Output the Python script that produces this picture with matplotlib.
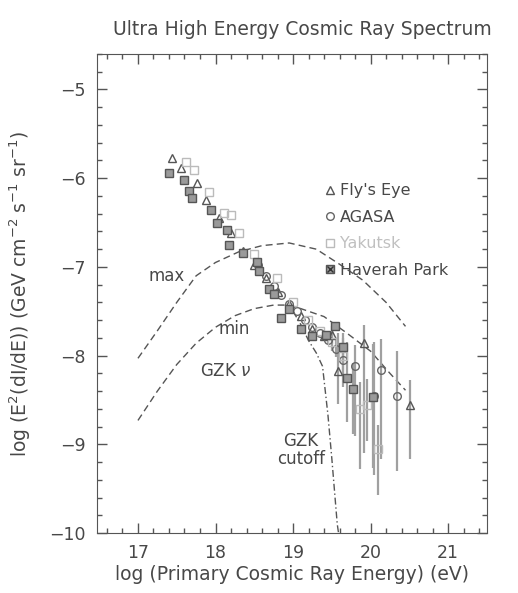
import numpy as np
import matplotlib
matplotlib.use("Agg")
import matplotlib.pyplot as plt

# Fly's Eye (open triangles)
fe_x = [17.44, 17.56, 17.76, 17.88, 18.05, 18.2, 18.35, 18.5, 18.65, 18.8, 18.95, 19.1, 19.25, 19.4, 19.5, 19.58, 19.92, 20.51]
fe_y = [-5.77, -5.89, -6.05, -6.25, -6.45, -6.62, -6.82, -6.98, -7.12, -7.28, -7.42, -7.55, -7.7, -7.78, -7.77, -8.17, -7.86, -8.56]
fe_lo = [0, 0, 0, 0, 0, 0, 0, 0, 0, 0, 0, 0, 0, 0.05, 0.1, 0.38, 1.24, 0.6]
fe_hi = [0, 0, 0, 0, 0, 0, 0, 0, 0, 0, 0, 0, 0, 0.05, 0.1, 0.42, 0.2, 0.28]

# AGASA (open circles)
ag_x = [18.55, 18.65, 18.75, 18.85, 18.95, 19.05, 19.15, 19.25, 19.35, 19.45, 19.55, 19.65, 19.8, 20.05, 20.14, 20.34]
ag_y = [-6.98, -7.1, -7.22, -7.32, -7.42, -7.5, -7.6, -7.68, -7.75, -7.82, -7.92, -8.05, -8.12, -8.45, -8.16, -8.45]
ag_lo = [0, 0, 0, 0, 0, 0, 0, 0, 0, 0.05, 0.1, 0.3, 0.78, 0.9, 1.0, 0.85]
ag_hi = [0, 0, 0, 0, 0, 0, 0, 0, 0, 0.05, 0.1, 0.25, 0.24, 0.6, 0.35, 0.5]

# Yakutsk (light open squares)
ya_x = [17.62, 17.72, 17.92, 18.11, 18.2, 18.3, 18.5, 18.79, 19.0, 19.19, 19.35, 19.5, 19.65, 19.86, 19.95, 20.09]
ya_y = [-5.82, -5.91, -6.16, -6.39, -6.41, -6.62, -6.85, -7.12, -7.4, -7.6, -7.72, -7.85, -8.0, -8.6, -8.56, -9.05]
ya_lo = [0, 0, 0, 0, 0, 0, 0, 0, 0, 0, 0, 0.1, 0.2, 0.68, 0.4, 0.52]
ya_hi = [0, 0, 0, 0, 0, 0, 0, 0, 0, 0, 0, 0.1, 0.15, 0.3, 0.3, 0.27]

# Haverah Park (boxed cross)
hp_x = [17.4, 17.6, 17.66, 17.7, 17.94, 18.02, 18.15, 18.18, 18.35, 18.53, 18.56, 18.69, 18.76, 18.85, 18.95, 19.1, 19.25, 19.43, 19.54, 19.64, 19.69, 19.77, 20.03]
hp_y = [-5.94, -6.02, -6.14, -6.22, -6.36, -6.5, -6.58, -6.75, -6.84, -6.94, -7.05, -7.25, -7.3, -7.58, -7.47, -7.7, -7.78, -7.77, -7.67, -7.9, -8.25, -8.38, -8.47]
hp_lo = [0, 0, 0, 0, 0, 0, 0, 0, 0, 0, 0, 0, 0, 0, 0, 0, 0, 0, 0.05, 0.2, 0.5, 0.5, 0.8]
hp_hi = [0, 0, 0, 0, 0, 0, 0, 0, 0, 0, 0, 0, 0, 0, 0, 0, 0, 0, 0.05, 0.15, 0.4, 0.3, 0.6]

# model curves
max_x = [17.0, 17.25, 17.5, 17.75, 18.0, 18.3, 18.6, 18.95, 19.3, 19.6, 19.9, 20.2, 20.45]
max_y = [-8.03, -7.72, -7.4, -7.1, -6.95, -6.83, -6.76, -6.73, -6.8, -6.97, -7.15, -7.4, -7.67]
min_x = [17.0, 17.25, 17.5, 17.75, 18.0, 18.25, 18.5, 18.75, 18.9, 19.1, 19.4, 19.7, 20.0, 20.25, 20.45]
min_y = [-8.73, -8.4, -8.1, -7.86, -7.68, -7.55, -7.47, -7.43, -7.43, -7.47, -7.56, -7.75, -7.95, -8.2, -8.39]
cut_x = [19.0, 19.1, 19.2, 19.3, 19.38, 19.45, 19.5, 19.57, 19.62]
cut_y = [-7.5, -7.65, -7.83, -7.97, -8.12, -8.67, -9.16, -9.9, -10.2]

txt = '#484848'
plt.rcParams['font.family'] = ['DejaVu Sans']

fig = plt.figure(figsize=(5.18, 5.93), dpi=100)
ax = fig.add_axes([0.187, 0.101, 0.753, 0.808])

#curves
ax.plot(max_x, max_y, color='#555555', lw=1.0, dashes=(5, 3))
ax.plot(min_x, min_y, color='#555555', lw=1.0, dashes=(5, 3))
ax.plot(cut_x, cut_y, color='#555555', lw=1.0, dashes=(5, 2, 1, 2))

#data with error bars
ebar = dict(ecolor='#a0a0a0', elinewidth=1.6, capsize=0, ls='none', ms=5.5)
h_fe = ax.errorbar(fe_x, fe_y, yerr=[fe_lo, fe_hi], fmt='^', mfc='none', mec='#555555', **ebar)
h_ag = ax.errorbar(ag_x, ag_y, yerr=[ag_lo, ag_hi], fmt='o', mfc='none', mec='#666666', **ebar)
h_ya = ax.errorbar(ya_x, ya_y, yerr=[ya_lo, ya_hi], fmt='s', mfc='none', mec='#bbbbbb', **ebar)
h_hp = ax.errorbar(hp_x, hp_y, yerr=[hp_lo, hp_hi], fmt='s', mfc='#9a9a9a', mec='#555555', **ebar)
h_hx, = ax.plot(hp_x, hp_y, 'x', color='#333333', ms=4, mew=1.0, ls='none')

#labels on the curves
ax.text(17.37, -7.1, 'max', fontsize=12, color=txt, ha='center', va='center')
ax.text(18.24, -7.7, 'min', fontsize=12, color=txt, ha='center', va='center')
ax.text(17.8, -8.17, r'GZK $\nu$', fontsize=12, color=txt, ha='left', va='center')
ax.text(19.1, -9.06, 'GZK\ncutoff', fontsize=12, color=txt, ha='center', va='center', linespacing=1.0)

leg = ax.legend([h_fe[0], h_ag[0], h_ya[0], (h_hp[0], h_hx)], ["Fly's Eye", 'AGASA', 'Yakutsk', 'Haverah Park'],
                loc='upper left', bbox_to_anchor=(0.56, 0.747), frameon=False, fontsize=11.5,
                handlelength=0.8, handletextpad=0.25, labelspacing=0.72, borderpad=0)
for t, c in zip(leg.get_texts(), [txt, txt, '#c0c0c0', txt]):
    t.set_color(c)

ax.set_xlim(16.47, 21.5)
ax.set_ylim(-10, -4.68)
ax.set_xticks([17, 18, 19, 20, 21])
ax.set_yticks([-10, -9, -8, -7, -6, -5])
ax.set_xticks(np.arange(16.6, 21.5, 0.2), minor=True)
ax.set_yticks(np.arange(-9.8, -4.6, 0.2), minor=True)
ax.tick_params(which='both', direction='in', top=True, right=True, colors='#555555', labelcolor=txt, labelsize=12.5, pad=8)
ax.tick_params(which='major', length=7, width=1)
ax.tick_params(which='minor', length=3.5, width=1)
for s in ax.spines.values():
    s.set_color('#555555')

ax.set_xlabel('log (Primary Cosmic Ray Energy) (eV)', fontsize=13.5, color=txt, labelpad=2)
ax.set_ylabel(r'log (E$^2$(dI/dE)) (GeV cm$^{-2}$ s$^{-1}$ sr$^{-1}$)', fontsize=13.5, color=txt)
ax.yaxis.set_label_coords(-0.165, 0.5)
fig.text(0.583, 0.95, 'Ultra High Energy Cosmic Ray Spectrum', fontsize=13.5, color=txt, ha='center', va='center')

fig.savefig('out.png', dpi=100)
